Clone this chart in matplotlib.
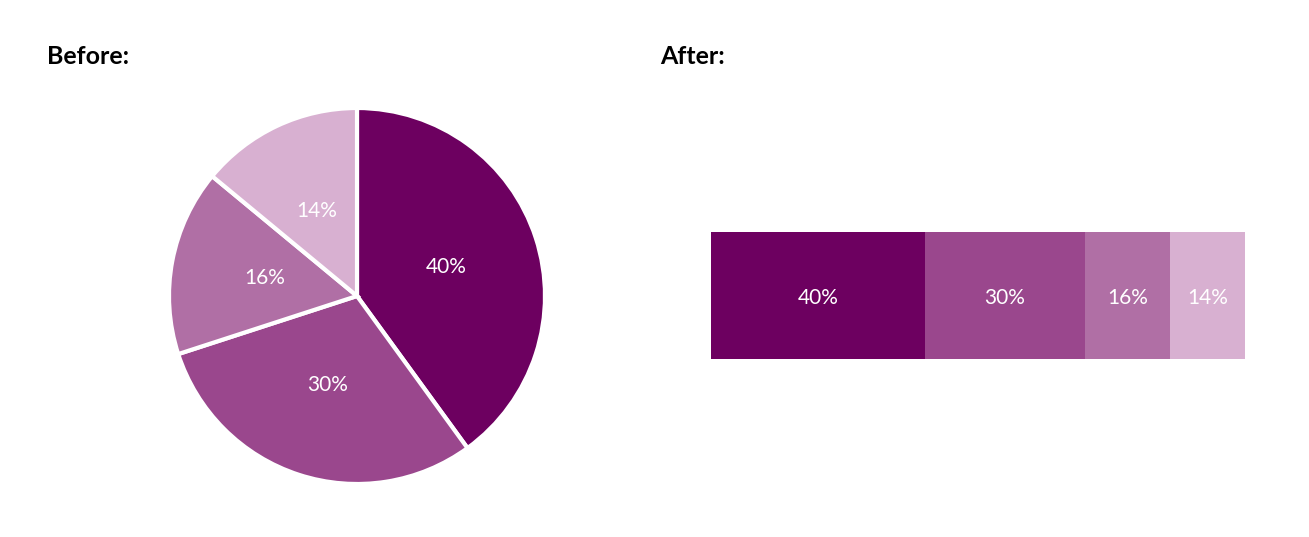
import matplotlib
matplotlib.use("Agg")
import matplotlib.pyplot as plt

plt.rcParams['font.family'] = ['Lato', 'DejaVu Sans']

# data
shares = [40, 30, 16, 14]
labels = ["40%", "30%", "16%", "14%"]
colors = ["#6d0060", "#9a478d", "#b06fa5", "#d8b0d1"]

W, H = 1309, 537
fig = plt.figure(figsize=(W / 100, H / 100), dpi=100)

# titles
fig.text(47 / W, 1 - 64 / H, "Before:", fontsize=18, fontweight="bold", ha="left", va="baseline")
fig.text(660 / W, 1 - 64 / H, "After:", fontsize=18, fontweight="bold", ha="left", va="baseline")

# Step 1. pie
cx, cy, r = 357, 296, 188
ax1 = fig.add_axes([(cx - r) / W, (H - cy - r) / H, 2 * r / W, 2 * r / H])
wedges, texts, autotexts = ax1.pie(
    shares, colors=colors, startangle=90, counterclock=False,
    autopct=lambda p: "%d%%" % round(p), pctdistance=0.5,
    wedgeprops=dict(edgecolor="white", linewidth=3),
    textprops=dict(color="white", fontsize=15))
ax1.set_xlim(-1, 1)
ax1.set_ylim(-1, 1)
ax1.axis("off")

# Step 2. stacked bar
ax2 = fig.add_axes([711 / W, (H - 359) / H, 534 / W, 127 / H])
left = 0
for s, lab, c in zip(shares, labels, colors):
    ax2.barh(0, s, left=left, color=c, height=1, edgecolor="none")
    ax2.text(left + s / 2, -0.02, lab, color="white", fontsize=15, ha="center", va="center")
    left += s
ax2.set_xlim(0, sum(shares))
ax2.set_ylim(-0.5, 0.5)
ax2.axis("off")

fig.savefig("out.png", dpi=100)
